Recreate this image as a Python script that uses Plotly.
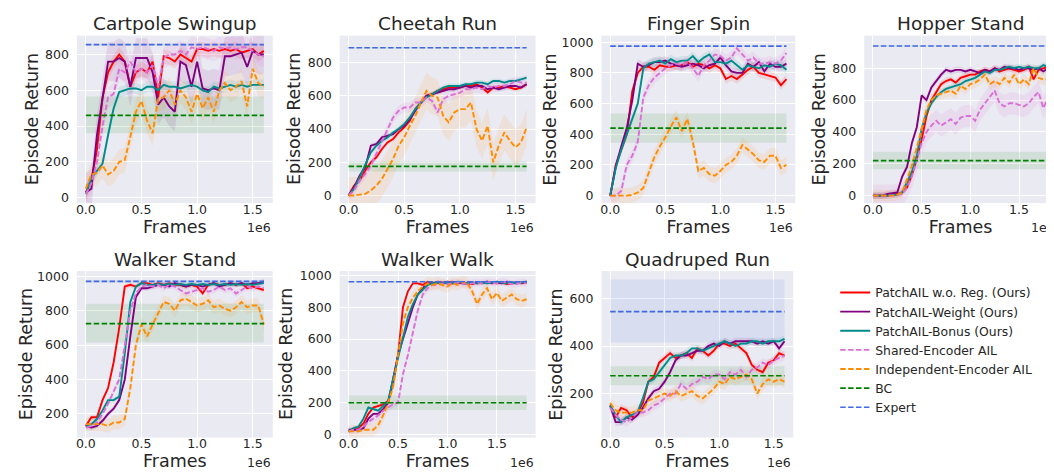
import plotly.graph_objects as go

W, H = 1054, 473
STEP = 50000  # frames between logged evaluation points

NAMES = ["PatchAIL w.o. Reg. (Ours)", "PatchAIL-Weight (Ours)", "PatchAIL-Bonus (Ours)",
         "Shared-Encoder AIL", "Independent-Encoder AIL"]
BASE_NAMES = ["BC", "Expert"]
COLORS = ["#FF0000", "#800080", "#008B8B", "#DA70D6", "#FF8C00"]
FILLS = ["rgba(255,0,0,0.10)", "rgba(128,0,128,0.10)", "rgba(0,139,139,0.10)",
         "rgba(218,112,214,0.12)", "rgba(255,140,0,0.10)"]
DASH = "5.5px,2.4px"
DASHES = ["solid", "solid", "solid", DASH, DASH]
BC_COLOR, BC_FILL = "#008000", "rgba(0,128,0,0.10)"
EX_COLOR, EX_FILL = "#4169E1", "rgba(65,105,225,0.10)"
XTICK_VALS = [0, 500000, 1000000, 1500000]
XTICK_TEXT = ["0.0", "0.5", "1.0", "1.5"]

# ---------------- Cartpole Swingup ----------------
CP_RED = [30, 100, 270, 560, 700, 760, 800, 760, 620, 700, 720, 700, 760, 560, 790, 780, 760,
          800, 780, 760, 830, 830, 820, 830, 820, 830, 820, 830, 810, 820, 830, 800, 820]
CP_PURPLE = [30, 50, 350, 560, 760, 760, 780, 760, 620, 780, 780, 780, 700, 520, 560, 510, 480,
             760, 740, 620, 760, 610, 600, 610, 600, 790, 790, 800, 810, 730, 820, 800, 800]
CP_TEAL = [20, 110, 150, 190, 350, 500, 590, 600, 610, 610, 600, 620, 620, 600, 630, 620, 620,
           610, 620, 630, 620, 600, 590, 620, 610, 620, 630, 620, 630, 620, 630, 630, 630]
CP_VIOLET = [20, 80, 200, 400, 560, 580, 720, 700, 760, 700, 720, 700, 740, 620, 780, 800, 800,
             820, 800, 840, 830, 840, 830, 820, 840, 830, 840, 830, 840, 840, 820, 800, 790]
CP_ORANGE = [50, 130, 140, 180, 130, 150, 200, 210, 340, 480, 540, 430, 360, 550, 560, 600, 520,
             600, 560, 480, 580, 500, 560, 480, 600, 640, 600, 620, 650, 510, 720, 640, 620]
CP_SPREAD = [40, 110, 30, 60, 70]
CP_BC = [460, 360, 565]
CP_EXPERT = [855, 850, 860]

# ---------------- Cheetah Run ----------------
CH_RED = [0, 60, 90, 150, 200, 230, 280, 320, 340, 380, 410, 450, 520, 560, 600, 610, 630,
          640, 650, 650, 650, 660, 660, 670, 650, 620, 650, 650, 660, 650, 640, 650, 670]
CH_PURPLE = [0, 50, 120, 170, 300, 310, 350, 360, 370, 400, 420, 460, 510, 560, 600, 610, 620,
             630, 640, 640, 650, 660, 650, 660, 660, 640, 650, 640, 650, 660, 660, 650, 670]
CH_TEAL = [0, 40, 110, 190, 260, 300, 330, 350, 380, 400, 430, 470, 520, 560, 590, 610, 630,
           650, 660, 660, 660, 670, 670, 680, 680, 670, 690, 690, 680, 690, 690, 700, 710]
CH_VIOLET = [0, 30, 90, 130, 180, 250, 330, 400, 470, 510, 530, 530, 560, 560, 590, 570, 500,
             580, 600, 610, 620, 640, 640, 650, 640, 660, 650, 660, 660, 670, 690, 680, 680]
CH_ORANGE = [0, 0, 5, 10, 30, 60, 100, 160, 220, 300, 350, 420, 480, 560, 630, 600, 590,
             480, 440, 500, 520, 520, 560, 400, 330, 420, 200, 300, 380, 330, 290, 320, 410]
CH_SPREAD = [15, 15, 15, 30, 110]
CH_BC = [175, 145, 205]
CH_EXPERT = [890, 886, 894]

# ---------------- Finger Spin ----------------
FS_RED = [0, 200, 300, 400, 680, 800, 840, 840, 820, 850, 840, 840, 850, 850, 870, 840, 860,
          850, 830, 850, 830, 760, 780, 760, 790, 820, 840, 800, 790, 780, 770, 720, 760]
FS_PURPLE = [0, 190, 320, 440, 620, 860, 840, 850, 870, 870, 880, 860, 850, 840, 850, 860, 850,
             830, 850, 860, 900, 850, 810, 800, 800, 860, 840, 870, 810, 860, 840, 840, 860]
FS_TEAL = [0, 180, 300, 400, 500, 600, 830, 860, 870, 880, 860, 890, 870, 880, 880, 910, 870,
           900, 920, 870, 870, 860, 880, 850, 820, 850, 840, 830, 850, 840, 860, 850, 820]
FS_VIOLET = [0, 0, 30, 200, 260, 350, 640, 720, 770, 800, 830, 850, 860, 850, 870, 830, 780,
             850, 880, 920, 910, 880, 900, 960, 920, 880, 900, 860, 860, 870, 860, 880, 930]
FS_ORANGE = [0, 0, 0, 0, 5, 20, 50, 150, 250, 320, 380, 450, 510, 420, 500, 350, 160,
             180, 140, 130, 160, 200, 220, 260, 330, 300, 270, 230, 220, 260, 260, 180, 200]
FS_SPREAD = [30, 30, 30, 40, 50]
FS_BC = [440, 345, 535]
FS_EXPERT = [975, 971, 979]

# ---------------- Hopper Stand ----------------
HS_RED = [0, 0, 0, 0, 5, 10, 20, 50, 130, 230, 350, 500, 600, 650, 700, 720, 730, 710, 740,
          750, 760, 760, 780, 790, 780, 800, 780, 790, 800, 790, 780, 790, 810, 730, 790, 800, 810]
HS_PURPLE = [0, 0, 0, 10, 15, 20, 120, 180, 330, 430, 630, 600, 680, 720, 760, 790, 780, 790, 790,
             780, 790, 780, 770, 790, 780, 800, 790, 810, 800, 800, 790, 800, 800, 790, 800, 780, 800]
HS_TEAL = [0, 0, 0, 0, 5, 5, 20, 80, 150, 250, 420, 520, 580, 620, 650, 670, 680, 690, 700,
           720, 730, 740, 760, 780, 770, 790, 790, 800, 810, 800, 810, 800, 810, 800, 800, 820, 810]
HS_VIOLET = [0, 0, 0, 0, 0, 5, 10, 50, 120, 220, 330, 400, 440, 470, 440, 460, 480, 450, 490,
             500, 500, 470, 540, 580, 620, 660, 580, 560, 580, 580, 570, 560, 580, 620, 650, 550, 620]
HS_ORANGE = [0, 0, 0, 0, 0, 5, 20, 100, 190, 300, 420, 540, 600, 630, 640, 650, 660, 640, 690,
             670, 700, 710, 730, 760, 700, 720, 700, 740, 710, 760, 700, 730, 700, 800, 740, 730, 730]
HS_SPREAD = [20, 20, 20, 70, 35]
HS_BC = [220, 165, 275]
HS_EXPERT = [940, 936, 944]

# ---------------- Walker Stand ----------------
WS_RED = [130, 180, 180, 280, 350, 500, 700, 940, 950, 940, 960, 960, 950, 960, 950, 960, 950,
          950, 940, 950, 940, 900, 950, 960, 950, 950, 960, 950, 960, 930, 940, 930, 920]
WS_PURPLE = [130, 120, 130, 160, 200, 230, 280, 400, 650, 880, 930, 930, 940, 950, 950, 940, 960,
             950, 940, 950, 950, 940, 950, 960, 940, 950, 960, 950, 960, 950, 960, 960, 970]
WS_TEAL = [130, 140, 170, 220, 280, 280, 300, 550, 850, 940, 960, 950, 950, 955, 950, 955, 950,
           955, 950, 955, 950, 955, 950, 955, 950, 955, 950, 955, 950, 955, 950, 955, 960]
WS_VIOLET = [120, 130, 150, 200, 260, 330, 400, 600, 800, 900, 940, 950, 940, 950, 930, 950, 940,
             920, 900, 910, 920, 930, 910, 920, 940, 920, 930, 900, 920, 940, 930, 940, 930]
WS_ORANGE = [140, 140, 140, 140, 130, 150, 150, 170, 350, 600, 720, 650, 720, 790, 850, 840, 800,
             860, 870, 850, 830, 840, 860, 820, 830, 810, 800, 820, 850, 820, 830, 830, 720]
WS_SPREAD = [15, 15, 15, 20, 40]
WS_BC = [725, 615, 840]
WS_EXPERT = [970, 962, 978]

# ---------------- Walker Walk ----------------
WW_RED = [20, 30, 40, 70, 130, 170, 180, 190, 210, 320, 500, 800, 900, 950, 950, 940, 960, 950, 960,
          955, 950, 960, 950, 955, 950, 945, 955, 950, 960, 955, 950, 955, 945, 950, 955, 950, 955]
WW_PURPLE = [30, 30, 30, 40, 100, 130, 130, 160, 200, 350, 500, 600, 700, 800, 880, 920, 950, 950, 955,
             950, 960, 950, 955, 950, 945, 955, 950, 955, 960, 950, 955, 950, 960, 955, 950, 955, 960]
WW_TEAL = [20, 40, 50, 100, 170, 160, 150, 180, 210, 350, 480, 620, 740, 820, 880, 910, 940, 950, 955,
           950, 955, 950, 960, 955, 950, 955, 950, 955, 950, 955, 960, 955, 950, 955, 950, 955, 960]
WW_VIOLET = [20, 30, 30, 50, 80, 100, 120, 150, 170, 190, 200, 380, 500, 640, 780, 880, 920, 940, 940,
             950, 945, 950, 955, 950, 945, 950, 955, 950, 960, 955, 950, 960, 955, 945, 950, 955, 950]
WW_ORANGE = [20, 20, 20, 30, 30, 30, 60, 120, 200, 300, 500, 700, 800, 860, 900, 930, 950, 940, 950,
             940, 930, 950, 940, 960, 950, 900, 820, 880, 920, 850, 890, 840, 860, 880, 850, 840, 850]
WW_SPREAD = [10, 10, 10, 25, 40]
WW_BC = [200, 155, 245]
WW_EXPERT = [960, 956, 964]

# ---------------- Quadruped Run ----------------
QR_RED = [150, 100, 140, 130, 100, 120, 160, 250, 270, 330, 350, 370, 350, 360, 370, 350, 390,
          380, 360, 380, 410, 410, 400, 410, 390, 370, 320, 300, 290, 330, 340, 370, 360]
QR_PURPLE = [150, 80, 80, 100, 90, 110, 140, 180, 210, 220, 250, 290, 340, 360, 360, 370, 380,
             380, 400, 410, 400, 420, 410, 420, 420, 420, 420, 410, 420, 410, 420, 390, 420]
QR_TEAL = [150, 110, 80, 100, 110, 120, 180, 250, 260, 290, 320, 350, 360, 360, 370, 390, 390,
           380, 390, 400, 410, 420, 410, 400, 410, 410, 420, 420, 410, 420, 420, 420, 430]
QR_VIOLET = [140, 110, 90, 80, 100, 120, 120, 130, 150, 160, 180, 200, 200, 240, 220, 240, 250,
             270, 260, 280, 280, 260, 290, 280, 300, 270, 300, 310, 330, 320, 340, 350, 360]
QR_ORANGE = [160, 130, 120, 120, 120, 130, 130, 170, 180, 190, 200, 190, 210, 190, 200, 210, 190,
             180, 200, 220, 250, 240, 270, 260, 270, 280, 260, 200, 240, 260, 250, 260, 250]
QR_SPREAD = [15, 15, 15, 20, 25]
QR_BC = [275, 235, 315]
QR_EXPERT = [545, 415, 680]

PANELS = [
    dict(title="Cartpole Swingup", series=[CP_RED, CP_PURPLE, CP_TEAL, CP_VIOLET, CP_ORANGE],
         spread=CP_SPREAD, bc=CP_BC, expert=CP_EXPERT, n=33, yrange=[-30, 905],
         yticks=[0, 200, 400, 600, 800], box=(68, 25, 264, 195), ylab_x=23),
    dict(title="Cheetah Run", series=[CH_RED, CH_PURPLE, CH_TEAL, CH_VIOLET, CH_ORANGE],
         spread=CH_SPREAD, bc=CH_BC, expert=CH_EXPERT, n=33, yrange=[-46, 963],
         yticks=[0, 200, 400, 600, 800], box=(331, 25, 527, 195), ylab_x=286),
    dict(title="Finger Spin", series=[FS_RED, FS_PURPLE, FS_TEAL, FS_VIOLET, FS_ORANGE],
         spread=FS_SPREAD, bc=FS_BC, expert=FS_EXPERT, n=33, yrange=[-49, 1043],
         yticks=[0, 200, 400, 600, 800, 1000], box=(593, 25, 787, 195), ylab_x=542),
    dict(title="Hopper Stand", series=[HS_RED, HS_PURPLE, HS_TEAL, HS_VIOLET, HS_ORANGE],
         spread=HS_SPREAD, bc=HS_BC, expert=HS_EXPERT, n=37, yrange=[-47, 1005],
         yticks=[0, 200, 400, 600, 800], box=(856, 25, 1049, 195), ylab_x=811),
    dict(title="Walker Stand", series=[WS_RED, WS_PURPLE, WS_TEAL, WS_VIOLET, WS_ORANGE],
         spread=WS_SPREAD, bc=WS_BC, expert=WS_EXPERT, n=33, yrange=[62, 1030],
         yticks=[200, 400, 600, 800, 1000], box=(68, 264, 264, 433), ylab_x=17),
    dict(title="Walker Walk", series=[WW_RED, WW_PURPLE, WW_TEAL, WW_VIOLET, WW_ORANGE],
         spread=WW_SPREAD, bc=WW_BC, expert=WW_EXPERT, n=37, yrange=[-19, 1027],
         yticks=[0, 200, 400, 600, 800, 1000], box=(331, 264, 527, 433), ylab_x=278),
    dict(title="Quadruped Run", series=[QR_RED, QR_PURPLE, QR_TEAL, QR_VIOLET, QR_ORANGE],
         spread=QR_SPREAD, bc=QR_BC, expert=QR_EXPERT, n=33, yrange=[15, 715],
         yticks=[200, 400, 600], box=(593, 264, 785, 433), ylab_x=548),
]

FONT = "DejaVu Sans"
TXT = "#262626"

fig = go.Figure()
layout = dict(
    width=W, height=H, margin=dict(l=0, r=0, t=0, b=0),
    paper_bgcolor="white", plot_bgcolor="#EAEAF2",
    font=dict(family=FONT, color=TXT, size=12),
    showlegend=True,
    legend=dict(x=827 / W, y=1 - 271 / H, xanchor="left", yanchor="top",
                font=dict(size=12.4, family=FONT, color=TXT), bgcolor="rgba(0,0,0,0)",
                itemwidth=30, tracegroupgap=0),
)
annotations = []

for i, p in enumerate(PANELS):
    k = i + 1
    sfx = "" if k == 1 else str(k)
    xa, ya = "x" + sfx, "y" + sfx
    x0, y0, x1, y1 = p["box"]
    xmax = (p["n"] - 1) * STEP
    first = (k == 1)

    # learning-curve spread bands
    for j, ys in enumerate(p["series"]):
        xs = [t * STEP for t in range(len(ys))]
        s = p["spread"][j]
        up = [v + s for v in ys]
        lo = [v - s for v in ys]
        fig.add_trace(go.Scatter(x=xs + xs[::-1], y=up + lo[::-1], fill="toself",
                                 fillcolor=FILLS[j], line=dict(width=0), mode="lines",
                                 hoverinfo="skip", showlegend=False, xaxis=xa, yaxis=ya))
    # baseline bands
    for base, fillc in ((p["bc"], BC_FILL), (p["expert"], EX_FILL)):
        fig.add_trace(go.Scatter(x=[0, xmax, xmax, 0], y=[base[2], base[2], base[1], base[1]],
                                 fill="toself", fillcolor=fillc, line=dict(width=0), mode="lines",
                                 hoverinfo="skip", showlegend=False, xaxis=xa, yaxis=ya))
    # learning curves
    for j, ys in enumerate(p["series"]):
        xs = [t * STEP for t in range(len(ys))]
        fig.add_trace(go.Scatter(x=xs, y=ys, mode="lines", name=NAMES[j],
                                 line=dict(color=COLORS[j], width=1.9, dash=DASHES[j]),
                                 showlegend=first, legendrank=j + 1, xaxis=xa, yaxis=ya))
    # baselines
    for j, (base, col) in enumerate(((p["bc"], BC_COLOR), (p["expert"], EX_COLOR))):
        fig.add_trace(go.Scatter(x=[0, xmax], y=[base[0], base[0]], mode="lines",
                                 name=BASE_NAMES[j], line=dict(color=col, width=1.7, dash=DASH),
                                 showlegend=first, legendrank=6 + j, xaxis=xa, yaxis=ya))

    layout["xaxis" + sfx] = dict(
        domain=[x0 / W, x1 / W], anchor=ya, range=[-0.05 * xmax, 1.05 * xmax],
        tickvals=XTICK_VALS, ticktext=XTICK_TEXT, showgrid=True, gridcolor="white", gridwidth=1,
        zeroline=False, showline=False, ticks="", ticklabelstandoff=-3,
        tickfont=dict(size=12.5, family=FONT, color=TXT),
        title=dict(text="Frames", standoff=2, font=dict(size=17.5, family=FONT, color=TXT)),
        fixedrange=True)
    layout["yaxis" + sfx] = dict(
        domain=[1 - y1 / H, 1 - y0 / H], anchor=xa, range=p["yrange"], tickvals=p["yticks"],
        showgrid=True, gridcolor="white", gridwidth=1, zeroline=False, showline=False, ticks="",
        ticklabelstandoff=7, tickfont=dict(size=12.5, family=FONT, color=TXT),
        fixedrange=True)

    # y-axis label
    annotations.append(dict(text="Episode Return", x=p["ylab_x"] / W, y=1 - (y0 + y1) / 2 / H,
                            xref="paper", yref="paper", xanchor="center", yanchor="middle",
                            textangle=-90, showarrow=False,
                            font=dict(size=17.5, family=FONT, color=TXT)))
    # panel title
    annotations.append(dict(text=p["title"], x=(x0 + x1) / 2 / W, y=1 - (y0 - 12) / H,
                            xref="paper", yref="paper", xanchor="center", yanchor="middle",
                            showarrow=False, font=dict(size=18.5, family=FONT, color=TXT)))
    # offset text
    annotations.append(dict(text="1e6", x=x1 / W, y=1 - (y1 + 25) / H, xref="paper",
                            yref="paper", xanchor="right", yanchor="middle", showarrow=False,
                            font=dict(size=12.5, family=FONT, color=TXT)))

layout["annotations"] = annotations
fig.update_layout(**layout)
fig.write_html("out.html")
